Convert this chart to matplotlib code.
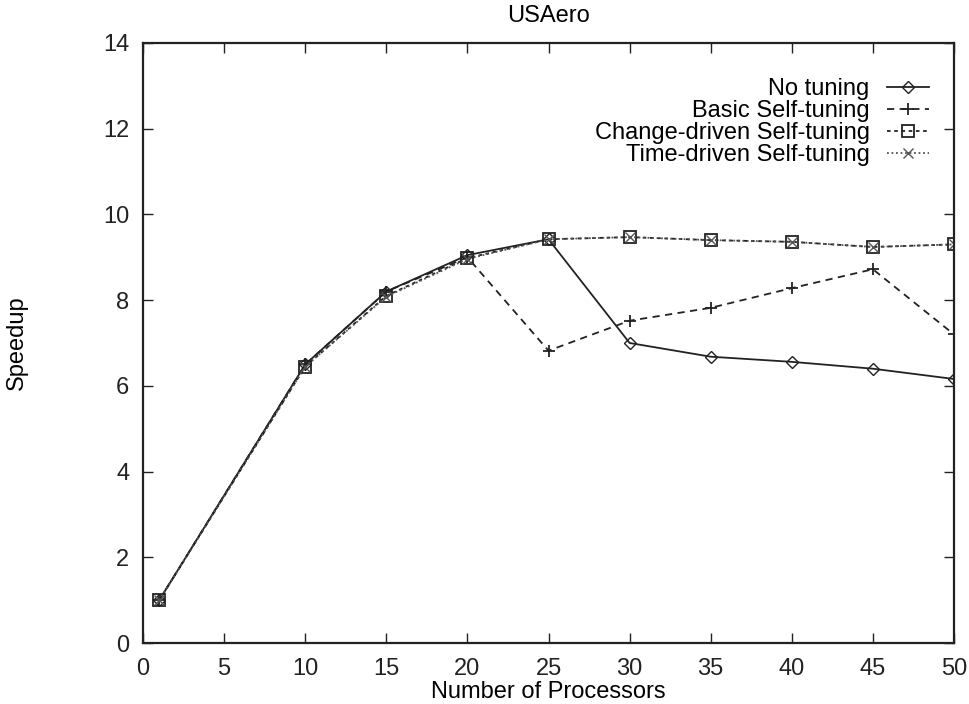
import numpy as np
import matplotlib.pyplot as plt

plt.rcParams['font.family'] = ['Liberation Sans', 'DejaVu Sans']

procs = [1, 10, 15, 20, 25, 30, 35, 40, 45, 50]
no_tuning = [1.0, 6.5, 8.2, 9.05, 9.42, 7.0, 6.68, 6.56, 6.4, 6.16]
basic = [1.0, 6.5, 8.2, 9.0, 6.82, 7.52, 7.82, 8.28, 8.72, 7.2]
change_driven = [1.0, 6.45, 8.1, 8.98, 9.42, 9.47, 9.4, 9.36, 9.24, 9.3]
time_driven = [1.0, 6.45, 8.08, 8.96, 9.42, 9.47, 9.4, 9.36, 9.24, 9.3]

fig = plt.figure(figsize=(9.69, 7.04), dpi=100)
ax = fig.add_axes([0.1476, 0.0866, 0.8369, 0.8524])

ink = '#222222'
ax.plot(procs, no_tuning, color=ink, lw=1.3, ls='-', marker='D', ms=6,
        mfc='none', mec=ink, mew=1.0, label='No tuning')
ax.plot(procs, basic, color=ink, lw=1.3, ls=(0, (4, 3)), marker='+', ms=9,
        mew=1.3, label='Basic Self-tuning')
ax.plot(procs, change_driven, color=ink, lw=1.3, ls=(0, (2, 2)), marker='s', ms=9,
        mfc='none', mec=ink, mew=1.3, label='Change-driven Self-tuning')
ax.plot(procs, time_driven, color='#555555', lw=1.3, ls=(0, (1, 1.5)), marker='x', ms=7,
        mew=1.0, label='Time-driven Self-tuning')

ax.set_xlim(0, 50)
ax.set_ylim(0, 14)
ax.set_xticks(np.arange(0, 51, 5))
ax.set_yticks(np.arange(0, 15, 2))
ax.tick_params(direction='in', top=True, right=True, length=7, width=1.0,
               labelsize=17, colors='#222222')
ax.tick_params(axis='x', pad=11)
ax.tick_params(axis='y', pad=10)
for s in ax.spines.values():
    s.set_linewidth(1.6)
    s.set_color('#222222')

ax.set_title('USAero', fontsize=17, pad=15)
ax.set_xlabel('Number of Processors', fontsize=17)
ax.xaxis.set_label_coords(0.5, -0.063)
ax.set_ylabel('Speedup', fontsize=17)
ax.yaxis.set_label_coords(-0.142, 0.5)

ax.legend(loc='upper right', bbox_to_anchor=(0.996, 0.977), frameon=False,
          markerfirst=False, fontsize=17, handlelength=1.82, labelspacing=0.0,
          handletextpad=0.72)

fig.savefig('out.png', dpi=100)
